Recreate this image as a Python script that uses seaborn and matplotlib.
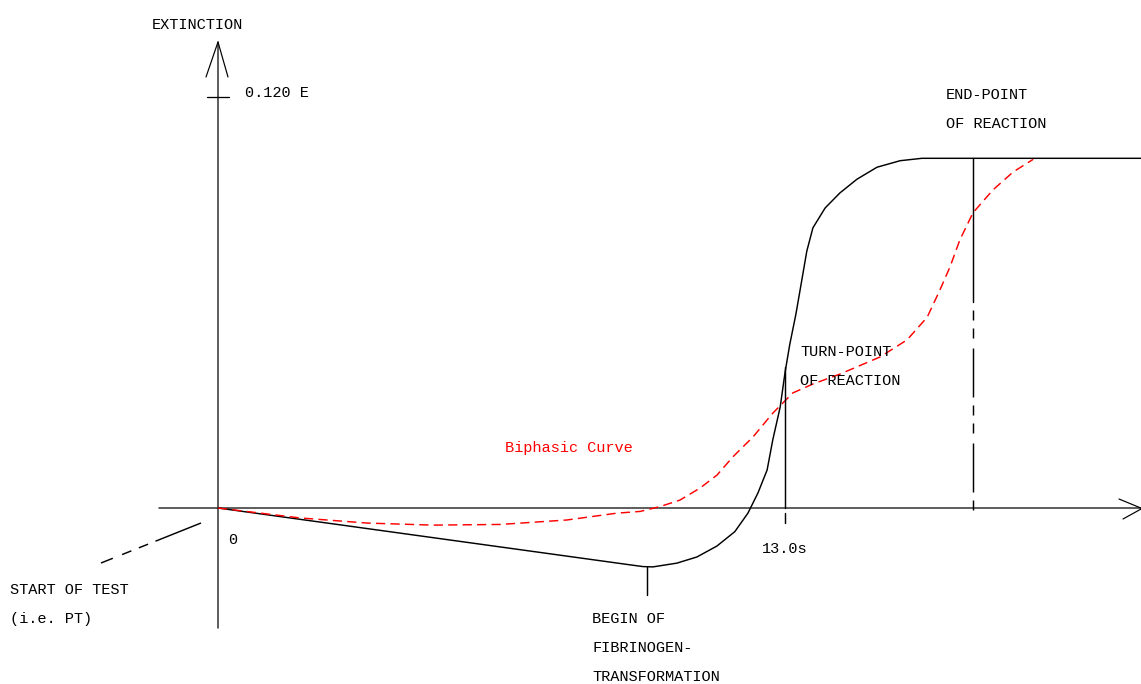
import matplotlib
matplotlib.use("Agg")
import matplotlib.pyplot as plt
import seaborn as sns
import numpy as np
import pandas as pd

# ---------------- data (time in s, extinction in E) ----------------
black_t = [0.00, 9.45, 9.74, 9.97, 10.52, 10.98, 11.44, 11.85, 12.15, 12.38, 12.59,
           12.72, 12.89, 13.00, 13.11, 13.25, 13.37, 13.50, 13.64, 13.92, 14.26,
           14.65, 15.11, 15.64, 16.14, 21.16]
black_e = [0.0000, -0.0166, -0.0171, -0.0172, -0.0161, -0.0143, -0.0111, -0.0069,
           -0.0015, 0.0044, 0.0111, 0.0199, 0.0295, 0.0395, 0.0478, 0.0566, 0.0654,
           0.0750, 0.0818, 0.0876, 0.0920, 0.0960, 0.0995, 0.1014, 0.1021, 0.1021]

red_t = [0.00, 1.88, 3.42, 4.93, 6.47, 8.00, 9.15, 9.68, 10.13, 10.59, 11.05, 11.44,
         11.81, 12.27, 12.72, 13.18, 13.64, 14.26, 15.18, 15.80, 16.26, 16.55, 16.78,
         17.01, 17.31, 17.77, 18.23, 18.69]
red_e = [0.0000, -0.0029, -0.0044, -0.0050, -0.0048, -0.0035, -0.0015, -0.0010,
         0.0004, 0.0023, 0.0058, 0.0096, 0.0150, 0.0208, 0.0277, 0.0336, 0.0362,
         0.0391, 0.0441, 0.0491, 0.0557, 0.0636, 0.0703, 0.0783, 0.0862, 0.0929,
         0.0981, 0.1018]

e_max = 0.120          # tick on extinction axis
t_turn = 13.0          # turn-point of reaction
t_end = 17.31          # end-point of reaction
t_begin = 9.84         # begin of fibrinogen transformation
e_plateau = 0.1021

# ---------------- layout (figure pixels) ----------------
W, H = 1141, 684
OX, OY = 218, 508                      # pixel position of origin
SX = (785 - OX) / t_turn               # px per second
SY = (OY - 97) / e_max                 # px per E


def P(px, py):
    return (px - OX) / SX, (OY - py) / SY


def tx(px):
    return (px - OX) / SX


def ey(py):
    return (OY - py) / SY


sns.set_theme(style="white")
plt.rcParams['font.family'] = ['Liberation Mono', 'DejaVu Sans Mono']

fig = plt.figure(figsize=(W / 100, H / 100), dpi=100)
ax = fig.add_axes([0, 0, 1, 1])
ax.set_xlim(tx(0), tx(W))
ax.set_ylim(ey(H), ey(0))
ax.axis("off")

px_pt = 72 / 100.0     # pixels -> points
axis_col = "#3a3a3a"

# axes
ax.plot([tx(218), tx(218)], [ey(628), ey(42)], color=axis_col, lw=1.6 * px_pt)
ax.plot([tx(206), tx(218), tx(228)], [ey(77), ey(42), ey(77)], color="black", lw=1.2 * px_pt)
ax.plot([tx(207), tx(229)], [e_max, e_max], color="black", lw=1.3 * px_pt)
ax.plot([tx(159), tx(W)], [0, 0], color=axis_col, lw=1.6 * px_pt)
ax.plot([tx(1119), tx(1142), tx(1123)], [ey(499), ey(508.5), ey(519)], color="black", lw=1.2 * px_pt)

# curves
df_black = pd.DataFrame({"t": black_t, "E": black_e})
df_red = pd.DataFrame({"t": red_t, "E": red_e})
sns.lineplot(data=df_black, x="t", y="E", color="black", lw=1.05, ax=ax, sort=False)
l = sns.lineplot(data=df_red, x="t", y="E", color="#ff0000", lw=1.05, ax=ax, sort=False)
l.lines[-1].set_dashes((6.3, 3.6))

# dash-dot pattern (long, short, short) in points for lw=1
lw_mark = 1.05
pat = tuple(v * px_pt / lw_mark for v in (49, 8, 10, 8, 10, 10))

# start-of-test leader
ax.plot([tx(201), tx(101)], [ey(523), ey(563)], color="black", lw=lw_mark,
        dashes=pat)

# turn-point marker
ax.plot([t_turn, t_turn], [ey(367), 0], color="black", lw=lw_mark)
ax.plot([t_turn, t_turn], [ey(513), ey(523)], color="black", lw=lw_mark)

# end-point marker
ax.plot([t_end, t_end], [e_plateau, ey(302)], color="black", lw=lw_mark)
shorts = tuple(v * px_pt / lw_mark for v in (10, 8, 10, 10, 49, 8))
ax.plot([t_end, t_end], [ey(310), ey(518)], color="black", lw=lw_mark, dashes=shorts)

# begin of fibrinogen transformation marker
ax.plot([t_begin, t_begin], [ey(567), ey(595)], color="black", lw=lw_mark)

# texts
fs = 11
labels = [
    ("EXTINCTION", 152, 25, "black"),
    ("0.120 E", 245, 93, "black"),
    ("0", 228, 540, "black"),
    ("START OF TEST", 10, 590, "black"),
    ("(i.e. PT)", 10, 619, "black"),
    ("BEGIN OF", 592, 619, "black"),
    ("FIBRINOGEN-", 592, 648, "black"),
    ("TRANSFORMATION", 592, 677, "black"),
    ("13.0s", 762, 549, "black"),
    ("TURN-POINT", 800, 352, "black"),
    ("OF REACTION", 800, 381, "black"),
    ("END-POINT", 946, 95, "black"),
    ("OF REACTION", 946, 124, "black"),
    ("Biphasic Curve", 505, 448, "#ff0000"),
]
for s, x, y, c in labels:
    ax.text(*P(x, y), s, fontsize=fs, color=c, ha="left", va="center")

fig.savefig("out.png", dpi=100)
